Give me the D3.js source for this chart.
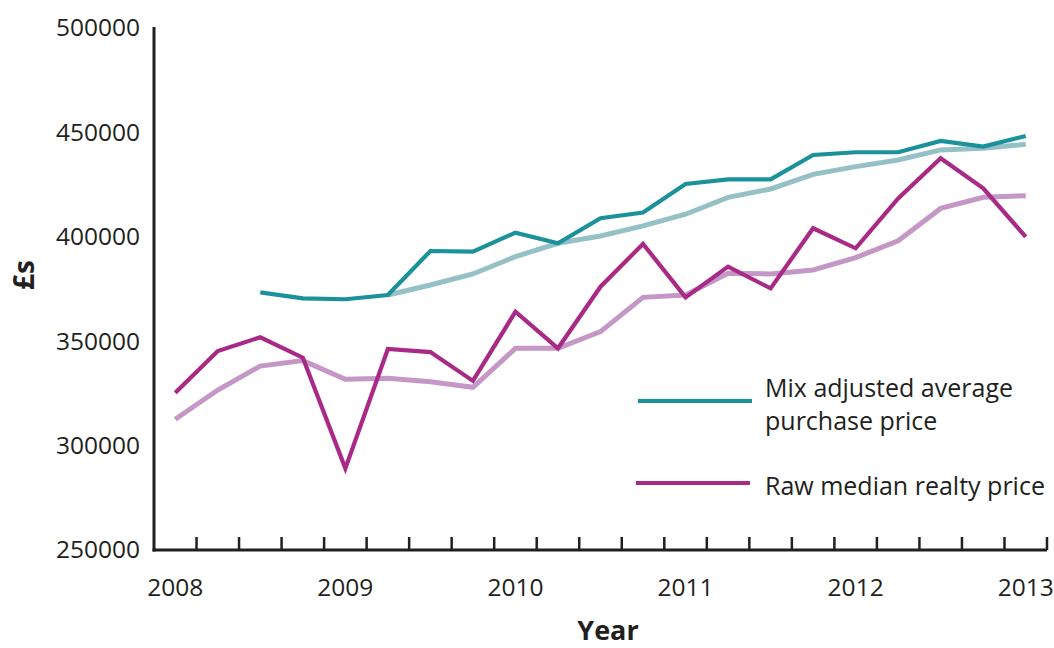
<!DOCTYPE html>
<html>
<head>
<meta charset="utf-8">
<script src="https://cdn.jsdelivr.net/npm/d3@7"></script>
<style>
  html, body { margin: 0; padding: 0; background: #fff; }
  svg text { font-family: "Open Sans", sans-serif; fill: #231f20; }
</style>
</head>
<body>
<svg id="chart" width="1054" height="648"></svg>
<script>
const quarters = ["2008 Q1","2008 Q2","2008 Q3","2008 Q4","2009 Q1","2009 Q2","2009 Q3","2009 Q4",
  "2010 Q1","2010 Q2","2010 Q3","2010 Q4","2011 Q1","2011 Q2","2011 Q3","2011 Q4",
  "2012 Q1","2012 Q2","2012 Q3","2012 Q4","2013 Q1"];
const yearLabels = ["2008","2009","2010","2011","2012","2013"];
const yTicks = [250000, 300000, 350000, 400000, 450000, 500000];

const mixAdjusted = [null, null, 373400, 370500, 370100, 372100, 393200, 392900,
  402000, 396900, 408900, 411600, 425300, 427500, 427500, 439200,
  440500, 440500, 445900, 443200, 448300];
const mixAdjustedTrend = [null, null, null, null, null, 372100, 376900, 382200,
  390500, 396900, 400400, 405200, 410800, 418900, 422900, 429900,
  433600, 436800, 441600, 442400, 444300];
const rawMedian = [325300, 345300, 351900, 342100, 289100, 346300, 344800, 331000,
  364100, 346600, 376100, 396600, 371000, 385700, 375300, 404100,
  394500, 418400, 437600, 423200, 400000];
const rawMedianTrend = [312600, 326600, 338100, 340700, 331800, 332200, 330600, 327900,
  346600, 346600, 354600, 371000, 372100, 382500, 382200, 384100,
  390000, 398100, 413600, 418900, 419700];

const seriesNames = ["Mix adjusted average purchase price", "Raw median realty price"];

const svg = d3.select("#chart");
const pLeft = 154, pRight = 1047, pTop = 28, pBottom = 550;
const ink = "#231f20";

const x = d3.scaleBand().domain(quarters).range([pLeft, pRight]).padding(0);
const y = d3.scaleLinear().domain([250000, 500000]).range([pBottom, pTop]);
const cx = q => x(q) + x.bandwidth() / 2;

// Y axis
const yAxis = d3.axisLeft(y).tickValues(yTicks).tickFormat(d3.format("d")).tickSize(0).tickPadding(14);
const gy = svg.append("g").attr("transform", `translate(${pLeft},0)`).call(yAxis);
gy.select(".domain").remove();
gy.selectAll("text").style("font-size", "24.5px").attr("fill", ink).style("font-family", "'Open Sans', sans-serif");

svg.append("line").attr("x1", pLeft).attr("x2", pLeft).attr("y1", pTop - 1).attr("y2", pBottom + 1.5)
  .attr("stroke", ink).attr("stroke-width", 3);

// X axis baseline
svg.append("line").attr("x1", pLeft - 1.5).attr("x2", pRight).attr("y1", pBottom).attr("y2", pBottom)
  .attr("stroke", ink).attr("stroke-width", 3);
// tick marks at category boundaries
svg.append("g").selectAll("line").data(quarters).join("line")
  .attr("x1", q => x(q) + x.bandwidth()).attr("x2", q => x(q) + x.bandwidth())
  .attr("y1", pBottom).attr("y2", pBottom - 13)
  .attr("stroke", ink).attr("stroke-width", 2.5);
// year labels at Q1 centres
svg.append("g").selectAll("text").data(yearLabels).join("text")
  .attr("x", yr => cx(yr + " Q1")).attr("y", 596)
  .attr("text-anchor", "middle").style("font-size", "24.5px").text(yr => yr);

// axis titles
svg.append("text").attr("x", 608).attr("y", 640).attr("text-anchor", "middle")
  .style("font-size", "27px").style("font-weight", "bold").text("Year");
svg.append("text").attr("transform", "translate(34,275) rotate(-90)").attr("text-anchor", "middle")
  .style("font-size", "28px").style("font-weight", "bold").text("£s");

// lines
const line = d3.line().defined(d => d[1] != null).x(d => cx(d[0])).y(d => y(d[1]));
const toPts = arr => quarters.map((q, i) => [q, arr[i]]);

const plots = [
  { data: mixAdjustedTrend, color: "#95c0c6", w: 5 },
  { data: rawMedianTrend, color: "#c497c7", w: 5 },
  { data: mixAdjusted, color: "#1b929b", w: 4.2 },
  { data: rawMedian, color: "#a92a86", w: 4.2 }
];
svg.append("g").selectAll("path").data(plots).join("path")
  .attr("d", p => line(toPts(p.data)))
  .attr("fill", "none").attr("stroke", p => p.color).attr("stroke-width", p => p.w)
  .attr("stroke-linejoin", "miter").attr("stroke-linecap", "butt");

// legend
const legend = svg.append("g");
legend.append("line").attr("x1", 638).attr("x2", 752).attr("y1", 401).attr("y2", 401)
  .attr("stroke", "#1b929b").attr("stroke-width", 4.2);
legend.append("text").attr("x", 765).attr("y", 397).style("font-size", "25px").text("Mix adjusted average");
legend.append("text").attr("x", 765).attr("y", 430).style("font-size", "25px").text("purchase price");
legend.append("line").attr("x1", 636).attr("x2", 750).attr("y1", 483).attr("y2", 483)
  .attr("stroke", "#a92a86").attr("stroke-width", 4.2);
legend.append("text").attr("x", 765).attr("y", 495).style("font-size", "25px").text(seriesNames[1]);
</script>
</body>
</html>
